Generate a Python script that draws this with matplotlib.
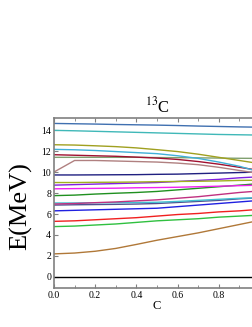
import numpy as np
import matplotlib
matplotlib.use('Agg')
import matplotlib.pyplot as plt
from matplotlib.ticker import MultipleLocator

plt.rcParams['font.family'] = ['Liberation Serif', 'DejaVu Serif']
plt.rcParams['mathtext.fontset'] = 'stix'

# 耦合常数 C
c_vals = [0.0, 0.1, 0.2, 0.3, 0.4, 0.5, 0.6, 0.7, 0.8, 0.9, 1.0]

# 各能级 E(MeV)
lvl_black = [0, 0, 0, 0, 0, 0, 0, 0, 0, 0, 0]
lvl_brown = [2.2, 2.28, 2.45, 2.72, 3.1, 3.5, 3.85, 4.2, 4.6, 5.0, 5.4]
lvl_lime = [4.8, 4.85, 4.95, 5.05, 5.2, 5.35, 5.45, 5.55, 5.7, 5.8, 5.9]
lvl_red = [5.3, 5.35, 5.45, 5.55, 5.65, 5.8, 5.95, 6.05, 6.2, 6.3, 6.45]
lvl_blue = [6.3, 6.35, 6.4, 6.45, 6.5, 6.55, 6.7, 6.85, 7.0, 7.15, 7.3]
lvl_slate = [6.85, 6.88, 6.9, 6.92, 6.95, 7.0, 7.1, 7.2, 7.3, 7.45, 7.55]
lvl_cyan = [7.05, 7.05, 7.07, 7.08, 7.1, 7.12, 7.2, 7.3, 7.4, 7.5, 7.55]
lvl_mvred = [6.95, 7.0, 7.08, 7.15, 7.25, 7.35, 7.5, 7.65, 7.85, 8.05, 8.2]
lvl_green = [7.75, 7.8, 7.9, 7.98, 8.05, 8.15, 8.3, 8.45, 8.6, 8.75, 8.9]
lvl_magenta = [8.4, 8.42, 8.44, 8.46, 8.5, 8.52, 8.55, 8.6, 8.65, 8.7, 8.75]
lvl_purple = [8.75, 8.8, 8.85, 8.9, 8.95, 9.0, 9.1, 9.2, 9.3, 9.45, 9.55]
lvl_ygreen = [9.0, 9.0, 9.02, 9.03, 9.05, 9.08, 9.1, 9.12, 9.15, 9.2, 9.22]
lvl_navy = [9.72, 9.72, 9.73, 9.74, 9.75, 9.78, 9.8, 9.85, 9.9, 9.95, 10.0]
lvl_rosy = [10.0, 11.1, 11.1, 11.05, 11.0, 10.95, 10.85, 10.7, 10.45, 10.15, 9.85]
lvl_sage = [11.4, 11.4, 11.4, 11.4, 11.4, 11.38, 11.37, 11.35, 11.33, 11.31, 11.3]
lvl_darkred = [11.65, 11.6, 11.55, 11.5, 11.42, 11.33, 11.2, 11.0, 10.75, 10.45, 10.15]
lvl_sky = [12.16, 12.12, 12.05, 11.95, 11.85, 11.75, 11.55, 11.3, 10.95, 10.55, 10.0]
lvl_olive = [12.6, 12.57, 12.5, 12.42, 12.3, 12.13, 11.95, 11.7, 11.4, 11.1, 10.8]
lvl_teal = [13.97, 13.93, 13.88, 13.83, 13.78, 13.73, 13.68, 13.63, 13.58, 13.55, 13.52]
lvl_steel = [14.63, 14.6, 14.57, 14.53, 14.5, 14.47, 14.43, 14.38, 14.34, 14.3, 14.27]

levels = [
    (lvl_black, 'black'), (lvl_brown, '#b07838'), (lvl_lime, '#30c040'),
    (lvl_red, '#f02020'), (lvl_blue, '#2020e0'), (lvl_slate, '#505090'),
    (lvl_cyan, '#40c0d0'), (lvl_mvred, '#c03080'), (lvl_green, '#209020'),
    (lvl_magenta, '#f020f0'), (lvl_purple, '#8020e0'), (lvl_ygreen, '#a0b020'),
    (lvl_navy, '#202080'), (lvl_rosy, '#b08080'), (lvl_sage, '#80a070'),
    (lvl_darkred, '#a01030'), (lvl_sky, '#40b0d8'), (lvl_olive, '#a0a020'),
    (lvl_teal, '#40b8b8'), (lvl_steel, '#4070b0'),
]

fig = plt.figure(figsize=(2.53, 3.27), dpi=100)
ax = fig.add_axes([0.2134, 0.1193, 0.814, 0.5199])

for vals, col in levels:
    ax.plot(c_vals, vals, color=col, lw=1.0)

ax.set_xlim(0, 1.0)
ax.set_ylim(-1.05, 15.15)
ax.set_xticks([0.0, 0.2, 0.4, 0.6, 0.8])
ax.xaxis.set_minor_locator(MultipleLocator(0.1))
ax.yaxis.set_major_locator(MultipleLocator(2))
ax.tick_params(which='both', direction='in', top=True, right=True,
               labelsize=7, color='gray', pad=2)
ax.tick_params(which='major', length=3)
ax.tick_params(which='minor', length=2)
for sp in ax.spines.values():
    sp.set_color('gray')
    sp.set_linewidth(1.2)

ax.set_title('$^{13}$C', fontsize=12, pad=4)
ax.set_xlabel('C', fontsize=9, labelpad=0)
fig.text(0.08, 0.37, 'E(MeV)', rotation=90, fontsize=19,
         ha='center', va='center')

plt.savefig('out.png', dpi=100)
